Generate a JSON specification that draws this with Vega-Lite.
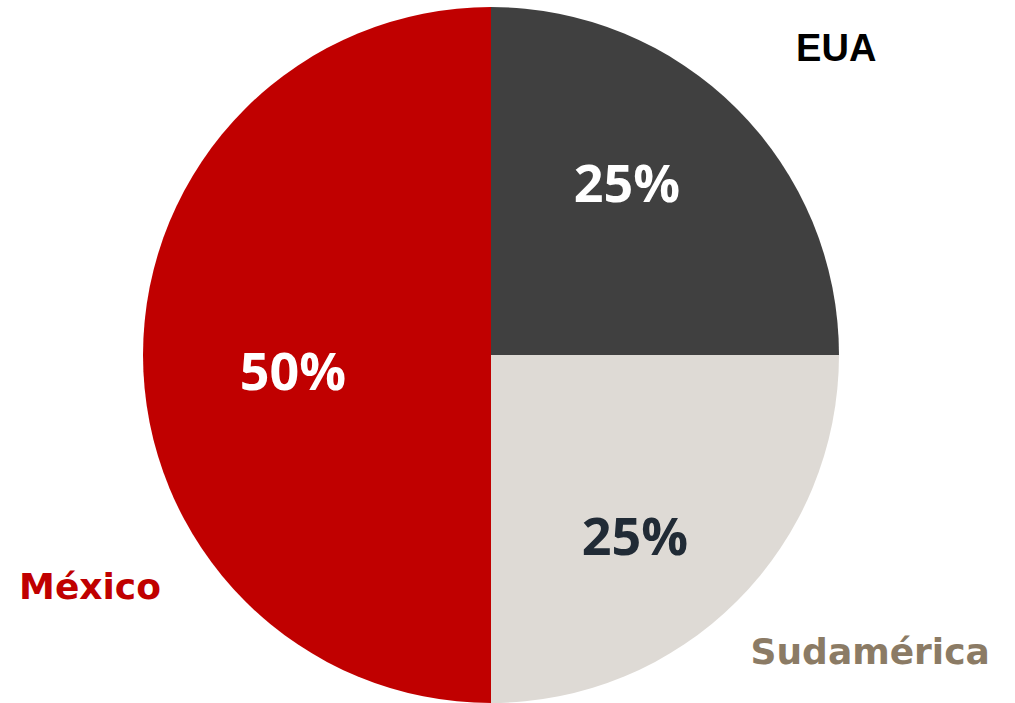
{
  "$schema": "https://vega.github.io/schema/vega-lite/v6.json",
  "width": 982,
  "height": 710,
  "autosize": {"type": "none"},
  "padding": {"left": 0, "top": 0, "bottom": 0, "right": 33},
  "background": "white",
  "config": {"view": {"stroke": null}},
  "data": {
    "values": [
      {"region": "EUA", "valor": 25, "pct": "25%"},
      {"region": "Sudamérica", "valor": 25, "pct": "25%"},
      {"region": "México", "valor": 50, "pct": "50%"}
    ]
  },
  "encoding": {
    "theta": {"field": "valor", "type": "quantitative", "stack": true},
    "order": {"field": "valor", "sort": "ascending"}
  },
  "layer": [
    {
      "mark": {"type": "arc", "outerRadius": 348, "stroke": null},
      "encoding": {
        "color": {
          "field": "region",
          "type": "nominal",
          "scale": {"domain": ["EUA", "Sudamérica", "México"], "range": ["#404040", "#DEDAD5", "#C00000"]},
          "legend": null
        }
      }
    },
    {
      "mark": {"type": "text", "radius": 215, "dx": -16, "dy": -17, "font": "Open Sans", "fontWeight": "bold", "fontSize": 52, "color": "#FFFFFF", "align": "center", "baseline": "middle"},
      "encoding": {"text": {"condition": {"test": "datum.region === 'EUA'", "field": "pct"}, "value": ""}}
    },
    {
      "mark": {"type": "text", "radius": 215, "dx": -8, "dy": 32, "font": "Open Sans", "fontWeight": "bold", "fontSize": 52, "color": "#212B36", "align": "center", "baseline": "middle"},
      "encoding": {"text": {"condition": {"test": "datum.region === 'Sudamérica'", "field": "pct"}, "value": ""}}
    },
    {
      "mark": {"type": "text", "radius": 215, "dx": 17, "dy": 19, "font": "Open Sans", "fontWeight": "bold", "fontSize": 52, "color": "#FFFFFF", "align": "center", "baseline": "middle"},
      "encoding": {"text": {"condition": {"test": "datum.region === 'México'", "field": "pct"}, "value": ""}}
    },
    {
      "mark": {"type": "text", "radius": 450, "dx": 27, "dy": 13, "font": "Liberation Sans", "fontWeight": "bold", "fontSize": 38, "color": "#000000", "align": "center", "baseline": "middle"},
      "encoding": {"text": {"condition": {"test": "datum.region === 'EUA'", "field": "region"}, "value": ""}}
    },
    {
      "mark": {"type": "text", "radius": 450, "dx": 61, "dy": -20, "font": "DejaVu Sans", "fontWeight": "bold", "fontSize": 36, "color": "#8B7B65", "align": "center", "baseline": "middle"},
      "encoding": {"text": {"condition": {"test": "datum.region === 'Sudamérica'", "field": "region"}, "value": ""}}
    },
    {
      "mark": {"type": "text", "radius": 450, "dx": 49, "dy": 233, "font": "DejaVu Sans", "fontWeight": "bold", "fontSize": 36, "color": "#C00000", "align": "center", "baseline": "middle"},
      "encoding": {"text": {"condition": {"test": "datum.region === 'México'", "field": "region"}, "value": ""}}
    }
  ]
}
